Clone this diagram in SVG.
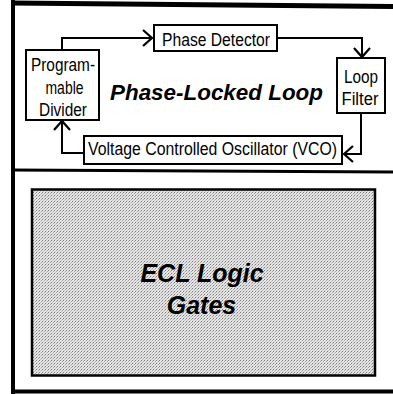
<svg xmlns="http://www.w3.org/2000/svg" width="393" height="394" viewBox="0 0 393 394">
<defs>
<style>
.box{fill:#fff;stroke:#000;stroke-width:2}
.lbl{font-family:"Liberation Sans",Arial,sans-serif;font-size:17.5px;fill:#000}
.ttl{font-family:"Liberation Sans",Arial,sans-serif;font-weight:bold;font-style:italic;fill:#000}
.wire{fill:none;stroke:#000;stroke-width:2}
.frame{stroke:#000;fill:none}
</style>
<marker id="chev" markerUnits="userSpaceOnUse" markerWidth="24" markerHeight="24" viewBox="-12 -12 24 24" refX="0" refY="0" orient="auto" overflow="visible">
<path d="M-9,-8 L0,0 L-9,8" fill="none" stroke="#000" stroke-width="2.2"/>
</marker>
<pattern id="dots" width="3" height="3" patternUnits="userSpaceOnUse">
<rect width="3" height="3" fill="#e6e6e6"/>
<rect x="0" y="0" width="1" height="1" fill="#7a7a7a"/>
<rect x="2" y="1" width="1" height="1" fill="#a4a4a4"/>
<rect x="1" y="2" width="1" height="1" fill="#c0c0c0"/>
</pattern>
</defs>
<rect width="393" height="394" fill="#fff"/>
<g id="frame">
<line class="frame" x1="13" y1="0" x2="13" y2="394" stroke-width="4"/>
<line class="frame" x1="11" y1="3" x2="393" y2="6.5" stroke-width="5"/>
<line class="frame" x1="11" y1="170" x2="393" y2="172" stroke-width="3"/>
<line class="frame" x1="11" y1="391.5" x2="393" y2="391.5" stroke-width="4"/>
</g>
<g id="connectors">
<polyline class="wire" points="62,50 62,38 152,38" marker-end="url(#chev)"/>
<polyline class="wire" points="278,38 362,38 362,57" marker-end="url(#chev)"/>
<polyline class="wire" points="361,113 361,154 344,154" marker-end="url(#chev)"/>
<polyline class="wire" points="84,153 62,153 62,121" marker-end="url(#chev)"/>
</g>
<g id="divider">
<rect class="box" x="26" y="50" width="73" height="70"/>
<text class="lbl" x="63" y="71" text-anchor="middle" textLength="64" lengthAdjust="spacingAndGlyphs">Program-</text>
<text class="lbl" x="64.5" y="93.5" text-anchor="middle" textLength="38" lengthAdjust="spacingAndGlyphs">mable</text>
<text class="lbl" x="63" y="116" text-anchor="middle" textLength="48" lengthAdjust="spacingAndGlyphs">Divider</text>
</g>
<g id="phase-detector">
<rect class="box" x="154" y="25" width="123" height="26"/>
<text class="lbl" x="216" y="45.5" text-anchor="middle" textLength="108" lengthAdjust="spacingAndGlyphs">Phase Detector</text>
</g>
<g id="loop-filter">
<rect class="box" x="337" y="58" width="48" height="55"/>
<text class="lbl" x="361" y="83" text-anchor="middle" textLength="34" lengthAdjust="spacingAndGlyphs">Loop</text>
<text class="lbl" x="360" y="105" text-anchor="middle" textLength="37" lengthAdjust="spacingAndGlyphs">Filter</text>
</g>
<g id="vco">
<rect class="box" x="84" y="136" width="258" height="28"/>
<text class="lbl" x="88" y="154.5" textLength="249" lengthAdjust="spacingAndGlyphs">Voltage Controlled Oscillator (VCO)</text>
</g>
<g id="pll-title">
<text class="ttl" x="110" y="100" font-size="22.5" textLength="213" lengthAdjust="spacingAndGlyphs">Phase-Locked Loop</text>
</g>
<g id="ecl">
<rect x="32" y="189.5" width="343" height="186" fill="url(#dots)" stroke="#000" stroke-width="2.5"/>
<text class="ttl" x="202" y="282" font-size="25" text-anchor="middle">ECL Logic</text>
<text class="ttl" x="201.5" y="314" font-size="25" text-anchor="middle">Gates</text>
</g>
</svg>
